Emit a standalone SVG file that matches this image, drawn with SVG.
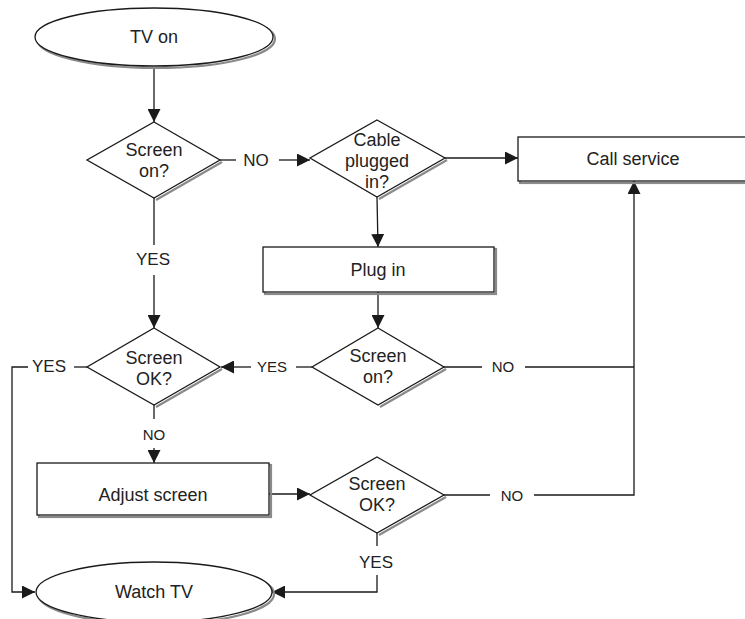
<svg xmlns="http://www.w3.org/2000/svg" width="745" height="619" viewBox="0 0 745 619">
<defs>
<marker id="arr" markerUnits="userSpaceOnUse" markerWidth="13" markerHeight="13" refX="13" refY="6.5" orient="auto">
<path d="M0,0 L13,6.5 L0,13 z" fill="#1a1a1a"/>
</marker>
<style>
.shape{fill:#fff;stroke:#1a1a1a;stroke-width:1.3}
.shadow{fill:none;stroke:#8a8a8a;stroke-width:2.2}
.t{font-family:"Liberation Sans",Arial,sans-serif;font-size:18px;fill:#222;text-anchor:middle}
.l{font-family:"Liberation Sans",Arial,sans-serif;font-size:17px;fill:#222;text-anchor:middle}
.s{font-family:"Liberation Sans",Arial,sans-serif;font-size:15px;fill:#222;text-anchor:middle}
.c{fill:none;stroke:#1a1a1a;stroke-width:1.3}
</style>
</defs>
<rect width="745" height="619" fill="#fff"/>

<g id="connectors">
<line class="c" x1="154" y1="67" x2="154" y2="122" marker-end="url(#arr)"/>
<line class="c" x1="220" y1="160" x2="236" y2="160"/>
<line class="c" x1="279" y1="160" x2="310" y2="160" marker-end="url(#arr)"/>
<line class="c" x1="445" y1="158" x2="518" y2="158" marker-end="url(#arr)"/>
<line class="c" x1="377" y1="197" x2="378" y2="247" marker-end="url(#arr)"/>
<line class="c" x1="378" y1="292" x2="378" y2="328" marker-end="url(#arr)"/>
<line class="c" x1="154" y1="198" x2="154" y2="245"/>
<line class="c" x1="154" y1="275" x2="154" y2="328" marker-end="url(#arr)"/>
<line class="c" x1="312" y1="367" x2="296" y2="367"/>
<line class="c" x1="251" y1="367" x2="221" y2="367" marker-end="url(#arr)"/>
<line class="c" x1="444" y1="367" x2="482" y2="367"/>
<line class="c" x1="525" y1="367" x2="634" y2="367"/>
<line class="c" x1="444" y1="495" x2="490" y2="495"/>
<polyline class="c" points="534,495 634,495 634,181" marker-end="url(#arr)"/>
<line class="c" x1="87" y1="367" x2="74" y2="367"/>
<polyline class="c" points="28,367 12,367 12,592 35,592" marker-end="url(#arr)"/>
<line class="c" x1="154" y1="405" x2="154" y2="419"/>
<line class="c" x1="154" y1="448" x2="154" y2="463" marker-end="url(#arr)"/>
<line class="c" x1="269" y1="494" x2="310" y2="494" marker-end="url(#arr)"/>
<line class="c" x1="377" y1="533" x2="377" y2="546"/>
<polyline class="c" points="377,575 377,592 272,592" marker-end="url(#arr)"/>
<text class="l" x="256" y="166">NO</text>
<text class="l" x="153" y="265">YES</text>
<text class="s" x="272" y="372">YES</text>
<text class="s" x="503" y="372">NO</text>
<text class="l" x="49" y="372">YES</text>
<text class="s" x="154" y="440">NO</text>
<text class="s" x="512" y="501">NO</text>
<text class="l" x="376" y="568">YES</text>
</g>

<g id="tv-on">
<ellipse class="shadow" cx="156" cy="39" rx="119" ry="29"/>
<ellipse class="shape" cx="154" cy="37" rx="119" ry="29"/>
<text class="t" x="154" y="43">TV on</text>
</g>

<g id="screen-on-1">
<polygon class="shadow" points="222,162 156,200"/>
<polygon class="shape" points="154,122 220,160 154,198 87,160"/>
<text class="t" x="154" y="156">Screen</text>
<text class="t" x="154" y="177">on?</text>
</g>

<g id="cable-plugged">
<polygon class="shadow" points="447,160 379,199"/>
<polygon class="shape" points="377,120 445,158 377,197 310,158"/>
<text class="t" x="377" y="146">Cable</text>
<text class="t" x="377" y="167">plugged</text>
<text class="t" x="377" y="188">in?</text>
</g>

<g id="call-service">
<rect x="520" y="139" width="240" height="44" fill="none" stroke="#8a8a8a" stroke-width="2.2"/>
<rect class="shape" x="518" y="137" width="240" height="44"/>
<text class="t" x="633" y="165">Call service</text>
</g>

<g id="plug-in">
<rect x="265" y="249" width="231" height="45" fill="none" stroke="#8a8a8a" stroke-width="2.2"/>
<rect class="shape" x="263" y="247" width="231" height="45"/>
<text class="t" x="378" y="276">Plug in</text>
</g>

<g id="screen-on-2">
<polygon class="shadow" points="446,369 380,407"/>
<polygon class="shape" points="378,328 444,367 378,405 312,367"/>
<text class="t" x="378" y="362">Screen</text>
<text class="t" x="378" y="383">on?</text>
</g>

<g id="screen-ok-1">
<polygon class="shadow" points="222,369 156,407"/>
<polygon class="shape" points="154,328 220,367 154,405 87,367"/>
<text class="t" x="154" y="364">Screen</text>
<text class="t" x="154" y="385">OK?</text>
</g>

<g id="adjust-screen">
<rect x="39" y="465" width="232" height="52" fill="none" stroke="#8a8a8a" stroke-width="2.2"/>
<rect class="shape" x="37" y="463" width="232" height="52"/>
<text class="t" x="153" y="501">Adjust screen</text>
</g>

<g id="screen-ok-2">
<polygon class="shadow" points="446,497 379,535"/>
<polygon class="shape" points="377,457 444,495 377,533 310,495"/>
<text class="t" x="377" y="490">Screen</text>
<text class="t" x="377" y="511">OK?</text>
</g>

<g id="watch-tv">
<ellipse class="shadow" cx="156" cy="594" rx="118" ry="30"/>
<ellipse class="shape" cx="154" cy="592" rx="118" ry="30"/>
<text class="t" x="154" y="598">Watch TV</text>
</g>
</svg>
